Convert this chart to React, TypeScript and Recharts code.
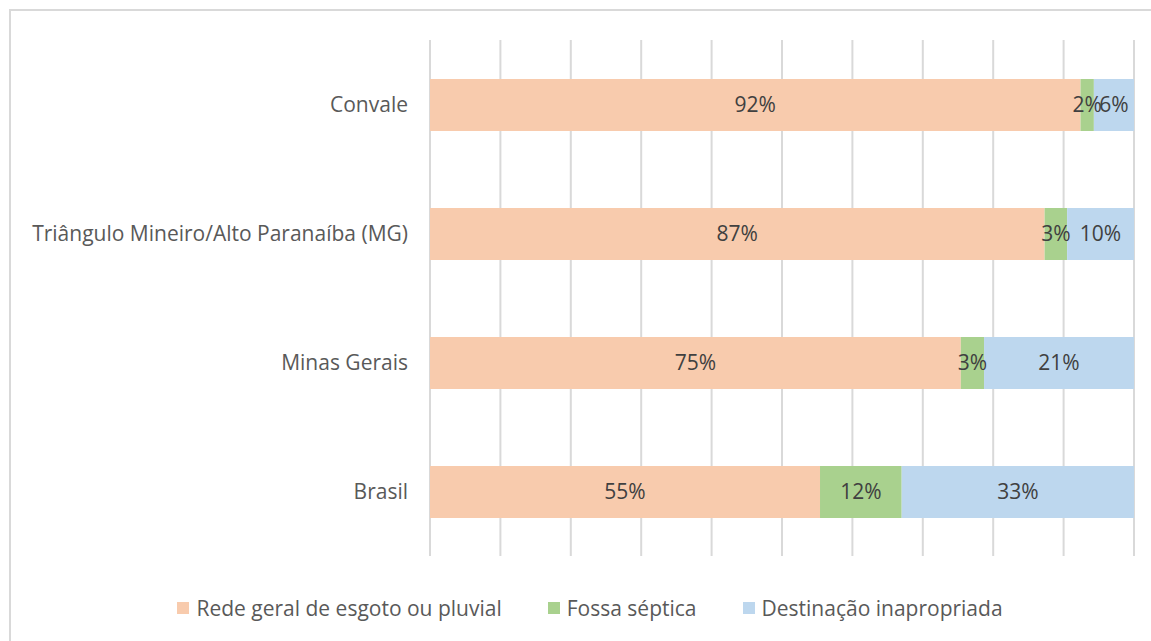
import React from "react";
import { BarChart, Bar, XAxis, YAxis, CartesianGrid, LabelList } from "recharts";

const categories = ["Convale", "Triângulo Mineiro/Alto Paranaíba (MG)", "Minas Gerais", "Brasil"];
const redeGeral = [92.4, 87.3, 75.4, 55.4];
const fossa = [1.9, 3.2, 3.3, 11.6];
const inapropriada = [5.7, 9.5, 21.3, 33.0];
const xTicks = [0, 10, 20, 30, 40, 50, 60, 70, 80, 90, 100];

const seriesNames = ["Rede geral de esgoto ou pluvial", "Fossa séptica", "Destinação inapropriada"];
const colors = ["#F8CBAD", "#A9D18E", "#BDD7EE"];

const data = categories.map((c, i) => ({
  name: c,
  rede: redeGeral[i],
  fossa: fossa[i],
  inap: inapropriada[i],
}));

const FONT = "'Open Sans', sans-serif";
const FS = 21;

const fmt = (v: any) => `${Math.round(Number(v))}%`;

export default function App() {
  const keys = ["rede", "fossa", "inap"];
  return (
    <div
      style={{
        position: "absolute",
        left: 9,
        top: 9,
        width: 1142,
        height: 632,
        borderTop: "2px solid #d9d9d9",
        borderLeft: "2px solid #d9d9d9",
        background: "#fff",
        fontFamily: FONT,
      }}
    >
      <BarChart
        width={1140}
        height={560}
        data={data}
        layout="vertical"
        margin={{ top: 29, right: 17, bottom: 15, left: 0 }}
        barSize={52}
      >
        <CartesianGrid horizontal={false} stroke="#d9d9d9" strokeWidth={2} />
        <XAxis type="number" domain={[0, 100]} ticks={xTicks} hide />
        <YAxis
          type="category"
          dataKey="name"
          width={419}
          axisLine={false}
          tickLine={false}
          tickSize={0}
          tickMargin={22}
          tick={{ fill: "#595959", fontSize: FS, fontFamily: FONT }}
        />
        {keys.map((k, i) => (
          <Bar key={k} dataKey={k} stackId="a" fill={colors[i]} isAnimationActive={false} name={seriesNames[i]}>
            <LabelList
              dataKey={k}
              position="center"
              formatter={fmt}
              style={{ fill: "#404040", fontSize: FS, fontFamily: FONT }}
            />
          </Bar>
        ))}
      </BarChart>
      <div
        style={{
          position: "absolute",
          left: 0,
          top: 583,
          width: 1140,
          display: "flex",
          justifyContent: "center",
          alignItems: "center",
          gap: 46,
          fontSize: FS,
          color: "#595959",
          paddingLeft: 18,
          boxSizing: "border-box",
        }}
      >
        {seriesNames.map((n, i) => (
          <div key={n} style={{ display: "flex", alignItems: "center" }}>
            <span style={{ display: "inline-block", width: 12, height: 12, background: colors[i], marginRight: 7 }} />
            <span>{n}</span>
          </div>
        ))}
      </div>
    </div>
  );
}
